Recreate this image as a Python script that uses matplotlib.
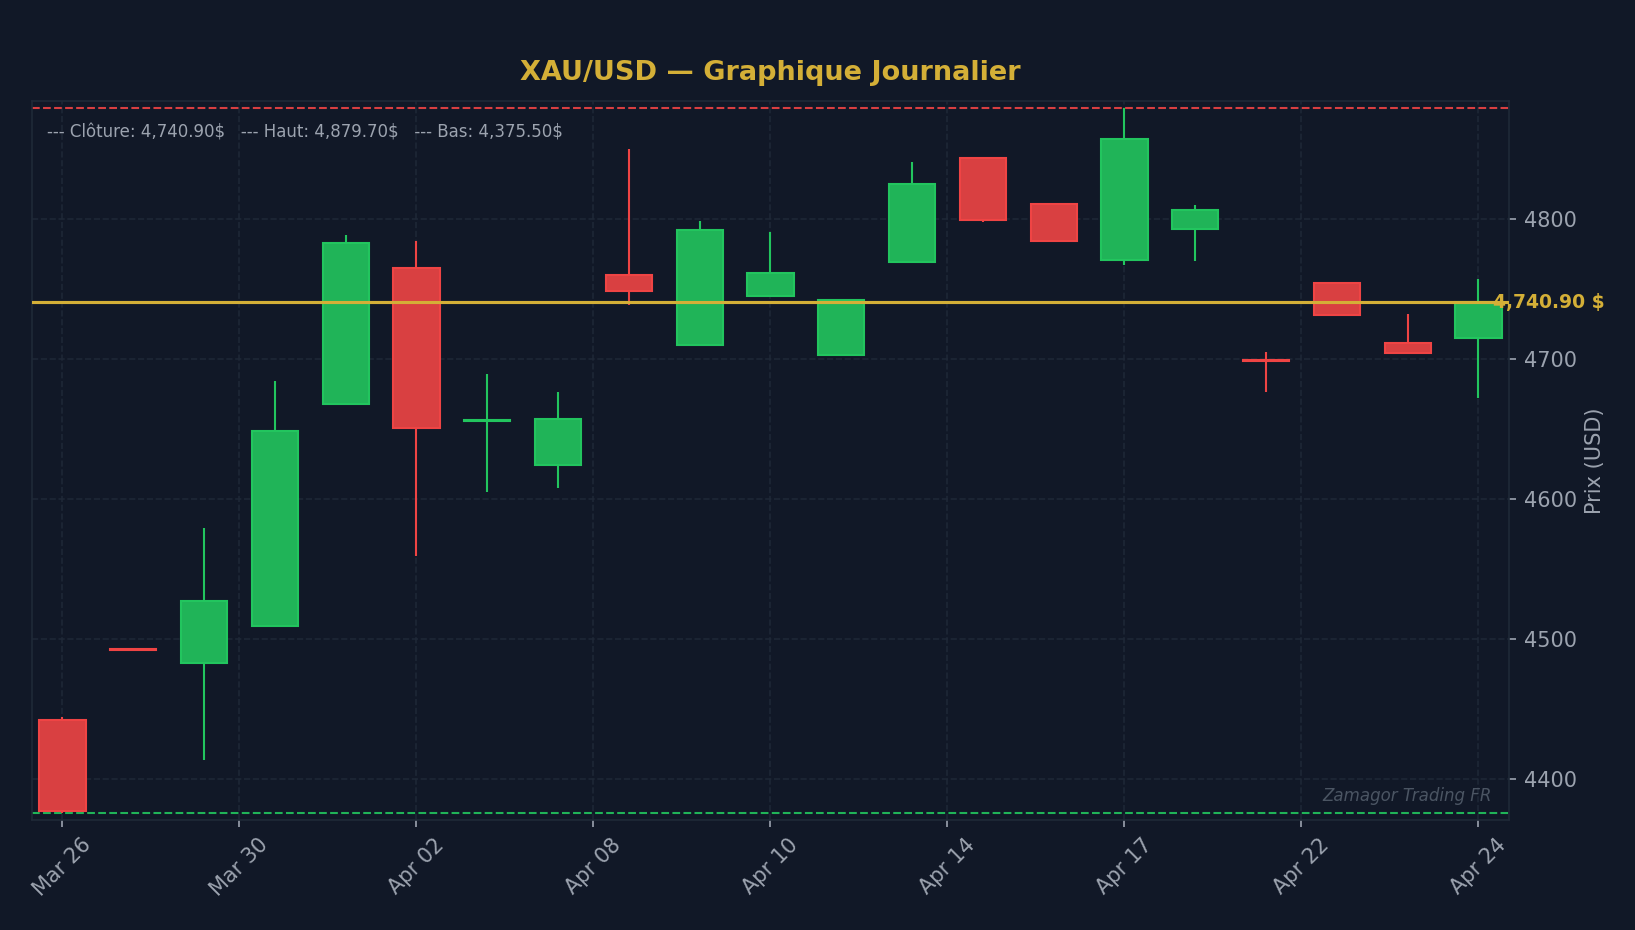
"""XAU/USD daily candlestick chart, dark theme."""

import matplotlib
matplotlib.use("Agg")
import matplotlib.pyplot as plt
import pandas as pd
from matplotlib.ticker import FuncFormatter, MultipleLocator

# --- data ----------------------------------------------------------------
dates = pd.to_datetime([
    "2026-03-26", "2026-03-27", "2026-03-30", "2026-03-31", "2026-04-01",
    "2026-04-02", "2026-04-06", "2026-04-07", "2026-04-08", "2026-04-09",
    "2026-04-10", "2026-04-13", "2026-04-14", "2026-04-15", "2026-04-16",
    "2026-04-17", "2026-04-20", "2026-04-21", "2026-04-22", "2026-04-23",
    "2026-04-24",
])
opens = [4442.0, 4492.8, 4482.4, 4509.5, 4668.3, 4765.5, 4655.6, 4624.5,
         4760.5, 4710.2, 4745.2, 4703.4, 4769.8, 4844.1, 4811.2, 4771.2,
         4793.4, 4699.2, 4754.8, 4711.9, 4715.2]
highs = [4444.0, 4493.0, 4579.3, 4684.3, 4788.6, 4784.3, 4689.3, 4676.4,
         4850.7, 4798.6, 4790.7, 4743.0, 4841.4, 4844.3, 4811.4, 4879.7,
         4810.7, 4705.0, 4755.0, 4732.1, 4757.1]
lows = [4375.5, 4492.0, 4413.6, 4508.6, 4668.0, 4559.4, 4605.0, 4607.9,
        4738.8, 4710.0, 4745.0, 4703.0, 4769.5, 4798.1, 4784.6, 4767.4,
        4770.2, 4676.6, 4731.5, 4704.3, 4672.6]
closes = [4377.0, 4492.2, 4527.1, 4648.6, 4783.4, 4651.0, 4656.4, 4657.6,
          4749.1, 4792.6, 4761.9, 4742.6, 4825.5, 4799.8, 4784.8, 4857.6,
          4806.9, 4698.6, 4731.7, 4704.5, 4740.9]

# --- style ---------------------------------------------------------------
BG = "#111827"
GRID = "#1f2937"
TEXT = "#9ca3af"
GOLD = "#d4af37"
UP = "#22c55e"
DOWN = "#ef4444"
UP_FILL = "#20b458"
DOWN_FILL = "#d94041"

n = len(dates)
x = list(range(n))
last_close = closes[-1]
top = max(highs)
bottom = min(lows)

fig = plt.figure(figsize=(10.9, 6.2), dpi=150, facecolor=BG)
ax = fig.add_axes([0.0196, 0.1183, 0.9033, 0.7731])
ax.set_facecolor(BG)

is_up = [c >= o for o, c in zip(opens, closes)]
edge_cols = [UP if u else DOWN for u in is_up]
face_cols = [UP_FILL if u else DOWN_FILL for u in is_up]
body_bot = [min(o, c) for o, c in zip(opens, closes)]
body_h = [abs(c - o) for o, c in zip(opens, closes)]

ax.vlines(x, lows, highs, colors=edge_cols, linewidth=1.0, zorder=2)
ax.bar(x, body_h, width=0.65, bottom=body_bot, color=face_cols,
       edgecolor=edge_cols, linewidth=1.0, zorder=3)

# reference levels
ax.axhline(last_close, color=GOLD, linewidth=1.5, zorder=4)
ax.axhline(top, color=DOWN, linestyle="--", linewidth=1.0, alpha=0.9, zorder=1)
ax.axhline(bottom, color=UP, linestyle="--", linewidth=1.0, alpha=0.9, zorder=1)

ax.text(n - 0.8, last_close, f"{last_close:,.2f} $", color=GOLD,
        fontsize=9, fontweight="bold", ha="left", va="center",
        clip_on=False, zorder=5)

ax.text(0.0102, 0.969,
        f"--- Clôture: {last_close:,.2f}$   --- Haut: {top:,.2f}$   "
        f"--- Bas: {bottom:,.2f}$",
        transform=ax.transAxes, color=TEXT, fontsize=8, ha="left", va="top")

ax.text(0.9885, 0.033, "Zamagor Trading FR", transform=ax.transAxes,
        color="#4b5563", fontsize=8, fontstyle="italic", ha="right",
        va="center")

# axes
pad = (top - bottom) * 0.01
ax.set_ylim(bottom - pad, top + pad)
ax.set_xlim(-0.43, n - 1 + 0.43)

ax.xaxis.set_major_locator(MultipleLocator(2.5))
ax.xaxis.set_major_formatter(FuncFormatter(
    lambda v, p: dates[int(round(v))].strftime("%b %d")
    if 0 <= round(v) < n else ""))
ax.yaxis.set_major_locator(MultipleLocator(100))
ax.yaxis.tick_right()
ax.yaxis.set_label_position("right")
ax.set_ylabel("Prix (USD)", color=TEXT, fontsize=10)

ax.tick_params(axis="both", colors=TEXT, labelsize=10)
plt.setp(ax.get_xticklabels(), rotation=45, ha="center")

ax.grid(True, color=GRID, linestyle="--", linewidth=0.8, alpha=0.9)
ax.set_axisbelow(True)
for spine in ax.spines.values():
    spine.set_color(GRID)

ax.set_title("XAU/USD — Graphique Journalier", color=GOLD, fontsize=13,
             fontweight="bold", pad=10)

fig.savefig("out.png", dpi=150, facecolor=BG)
plt.close(fig)
